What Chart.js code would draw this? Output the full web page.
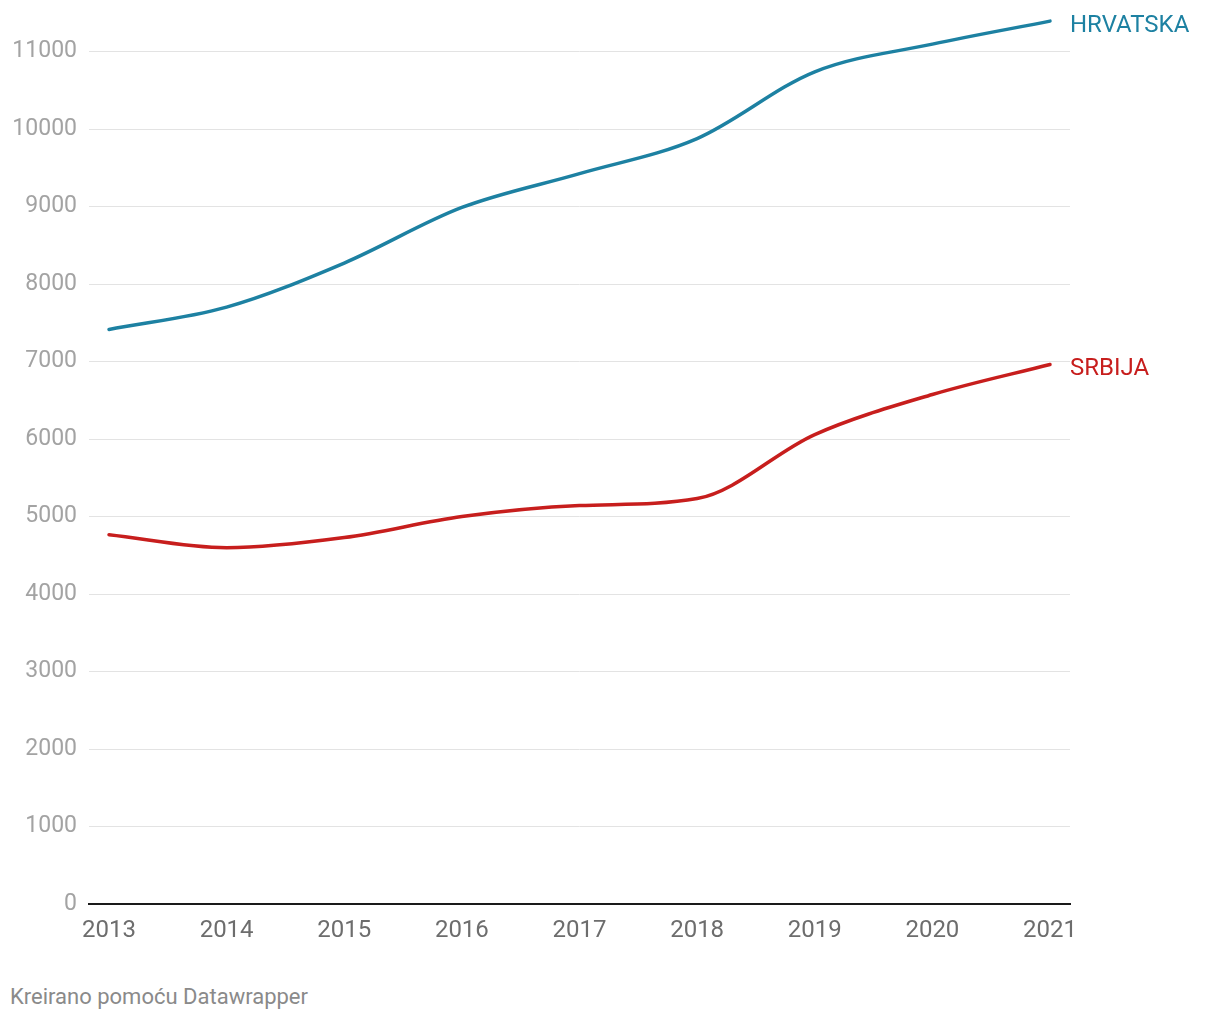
<!DOCTYPE html>
<html>
<head>
<meta charset="utf-8">
<script src="https://cdn.jsdelivr.net/npm/chart.js@4"></script>
<style>
html,body{margin:0;padding:0;background:#fff;}
#wrap{position:relative;width:1220px;height:1020px;}
#footer{position:absolute;left:10px;top:984px;font:22px Roboto,sans-serif;color:#8a8a8a;}
</style>
</head>
<body>
<div id="wrap">
<canvas id="c" width="1220" height="975"></canvas>
<div id="footer">Kreirano pomoću Datawrapper</div>
</div>
<script>
const years = [2013, 2014, 2015, 2016, 2017, 2018, 2019, 2020, 2021];
const hrvatska = [7416, 7704, 8273, 8990, 9427, 9879, 10741, 11098, 11395];
const srbija = [4767, 4599, 4729, 5000, 5142, 5233, 6059, 6576, 6964];
const yTicks = [0, 1000, 2000, 3000, 4000, 5000, 6000, 7000, 8000, 9000, 10000, 11000];
const seriesNames = ['HRVATSKA', 'SRBIJA'];
const seriesColors = ['#1d81a2', '#c71e1d'];

const endLabels = {
  id: 'endLabels',
  afterDatasetsDraw(chart) {
    const ctx = chart.ctx;
    ctx.save();
    ctx.font = '24px Roboto, sans-serif';
    ctx.textBaseline = 'middle';
    ctx.textAlign = 'left';
    chart.data.datasets.forEach((ds, i) => {
      const meta = chart.getDatasetMeta(i);
      const p = meta.data[meta.data.length - 1];
      ctx.fillStyle = ds.borderColor;
      ctx.fillText(ds.label, p.x + 20, p.y + 5);
    });
    ctx.restore();
  }
};

new Chart(document.getElementById('c'), {
  type: 'line',
  data: {
    datasets: [
      { label: seriesNames[0], data: years.map((y, i) => ({x: y, y: hrvatska[i]})), borderColor: seriesColors[0], borderWidth: 3.5, pointRadius: 0, cubicInterpolationMode: 'monotone', fill: false, borderCapStyle: 'round', clip: false },
      { label: seriesNames[1], data: years.map((y, i) => ({x: y, y: srbija[i]})), borderColor: seriesColors[1], borderWidth: 3.5, pointRadius: 0, cubicInterpolationMode: 'monotone', fill: false, borderCapStyle: 'round', clip: false }
    ]
  },
  options: {
    responsive: false,
    animation: false,
    layout: { padding: { top: 13, right: 150, bottom: 11, left: 0 } },
    plugins: { legend: { display: false }, tooltip: { enabled: false } },
    scales: {
      x: {
        type: 'linear',
        min: 2012.83,
        max: 2021.17,
        afterBuildTicks: s => { s.ticks = years.map(v => ({value: v})); },
        afterFit: s => { s.height = 60; s.paddingLeft = 0; s.paddingRight = 0; },
        grid: { display: false, drawTicks: false },
        border: { display: true, color: '#1a1a1a', width: 2 },
        ticks: { padding: 13, color: '#6d6d6d', font: { family: 'Roboto', size: 24 }, callback: v => String(v), maxRotation: 0, autoSkip: false }
      },
      y: {
        min: 0,
        max: 11500,
        afterBuildTicks: s => { s.ticks = yTicks.map(v => ({value: v})); },
        afterFit: s => { s.width = 89; s.paddingTop = 0; s.paddingBottom = 0; },
        grid: { color: '#e3e3e3', lineWidth: 1, drawTicks: false },
        border: { display: false },
        ticks: { padding: 12, color: '#a3a3a3', font: { family: 'Roboto', size: 23 }, callback: v => String(v) }
      }
    }
  },
  plugins: [endLabels]
});
</script>
</body>
</html>
